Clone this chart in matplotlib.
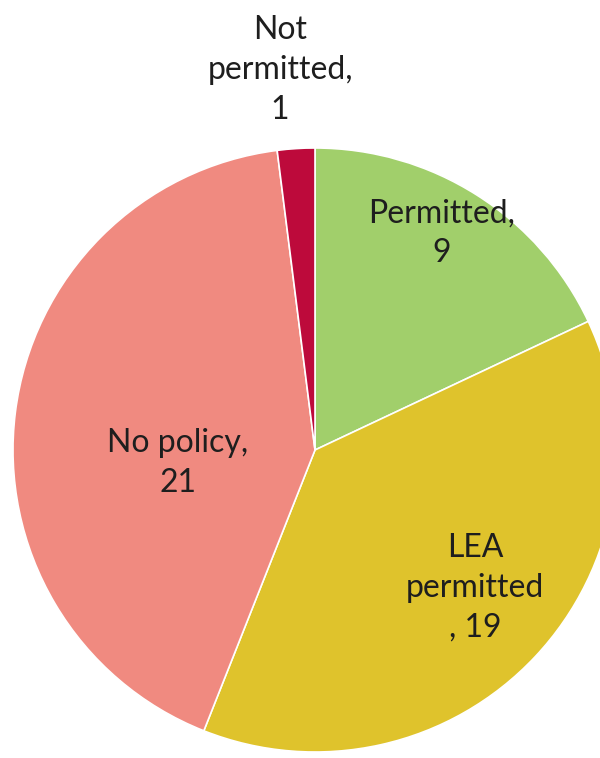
import matplotlib
matplotlib.use('Agg')
import matplotlib.pyplot as plt

labels = ["Permitted,\n9", "LEA\npermitted\n, 19", "No policy,\n21", "Not\npermitted,\n1"]
values = [9, 19, 21, 1]
colors = ["#a1cf6b", "#dfc32c", "#f08a80", "#bd0a3b"]

# label anchor points in pixel space (x, y from top)
label_pos = [(442, 233), (475, 588), (178, 463), (280, 70)]

W, H = 600, 758
fig = plt.figure(figsize=(W / 100, H / 100), dpi=100)
ax = fig.add_axes([0, 0, 1, 1])

cx, cy, r = 315, H - 450, 302
ax.pie(values, colors=colors, startangle=90, counterclock=False,
       center=(cx, cy), radius=r, frame=True,
       wedgeprops=dict(edgecolor="white", linewidth=1.2))
ax.set_xlim(0, W)
ax.set_ylim(0, H)
ax.set_aspect("equal")
ax.axis("off")

for text, (x, y) in zip(labels, label_pos):
    ax.text(x, H - y, text, ha="center", va="center", fontsize=23,
            family="Lato", color="#1e1e1e", linespacing=1.4)

plt.savefig("out.png", dpi=100)
plt.close()
